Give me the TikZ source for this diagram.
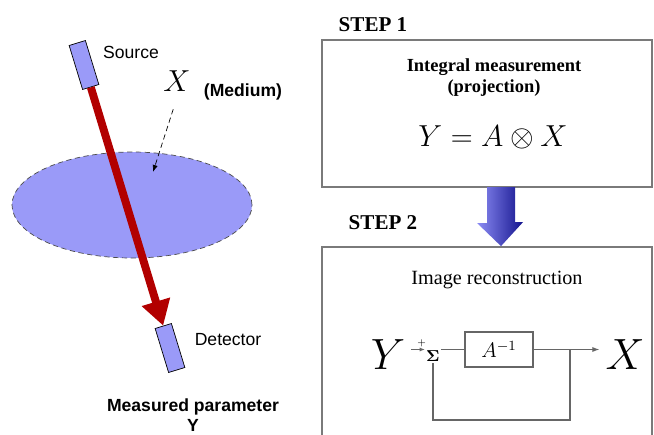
\documentclass[tikz,border=0pt]{standalone}
\usepackage{amsmath, amssymb}
\usepackage{xcolor}
\usepackage{fontspec}
\setmainfont{Liberation Serif}
\setsansfont{Liberation Sans}
\usetikzlibrary{arrows.meta, shapes.geometric}
\definecolor{medium-blue}{HTML}{9A9AF8}
\definecolor{ray-red}{HTML}{B20000}
\definecolor{frame-gray}{HTML}{7A7A7A}
\definecolor{step-light}{HTML}{8C8CF4}
\definecolor{step-dark}{HTML}{14148E}

\begin{document}
\begin{tikzpicture}[every node/.style={font=\sffamily\fontsize{10}{11}\selectfont},
    probe/.style={draw, fill=medium-blue, minimum width=0.34cm, minimum height=0.92cm,
      inner sep=0pt, rotate=17},
    steplabel/.style={font=\rmfamily\bfseries\fontsize{12}{14}\selectfont},
    wire/.style={draw=black!60, line width=0.6pt}]
    \useasboundingbox (0,0) rectangle (13.08,8.68);
    % object side
    \node[ellipse, draw=black!70, densely dashed, fill=medium-blue, minimum width=4.8cm,
      minimum height=2.12cm] (medium) at (2.64,4.58) {};
    \node[probe] (src) at (1.68,7.38) {};
    \node[probe] (det) at (3.40,1.72) {};
    \draw[-{Triangle[width=0.56cm, length=0.5cm]}, line width=4.5pt, ray-red]
      (src.south) -- (det.north);
    \node (srclab) at (2.62,7.64) {Source};
    \node[font=\fontsize{18}{18}\selectfont] (xlab) at (3.54,7.06) {$X$};
    \node[font=\sffamily\bfseries\fontsize{10}{11}\selectfont] (medlab) at (4.86,6.84) {(Medium)};
    \coordinate (inside) at (3.06,5.24);
    \draw[-{Latex[length=4pt]}, densely dashed, shorten <=7pt] (xlab.south) -- (inside);
    \node (detlab) at (4.56,1.88) {Detector};
    \node[font=\sffamily\bfseries\fontsize{10}{11}\selectfont, align=center]
      (meas) at (3.86,0.38) {Measured parameter\\Y};
    % step 1
    \node[steplabel] (step1) at (7.46,8.18) {STEP 1};
    \node[draw=frame-gray, line width=1pt, minimum width=6.6cm, minimum height=2.94cm]
      (box1) at (9.74,6.41) {};
    \node[font=\rmfamily\bfseries\fontsize{10.5}{12}\selectfont, align=center]
      (intlab) at (9.88,7.12) {Integral measurement\\(projection)};
    \node[font=\fontsize{17}{17}\selectfont] (fwd) at (9.86,5.94) {$Y = A \otimes X$};
    % step 2
    \node[steplabel] (step2) at (7.66,4.22) {STEP 2};
    \node[draw=frame-gray, line width=1pt, minimum width=6.6cm, minimum height=4.2cm]
      (box2) at (9.74,1.64) {};
    \coordinate (down) at (10.02,4.94);
    \shade[left color=step-light, right color=step-dark]
      (down) ++(-0.28,0) -- ++(0,-0.72) -- ++(-0.2,0) -- (down |- box2.north)
      -- ++(0.44,0.48) -- ++(-0.16,0) -- (10.30,4.94) -- cycle;
    \node[font=\rmfamily\fontsize{11.5}{13}\selectfont] (reclab) at (9.94,3.08) {Image reconstruction};
    \node[font=\fontsize{24}{24}\selectfont] (yin) at (7.76,1.58) {$Y$};
    \node[inner sep=0.5pt, font=\small] (sum) at (8.66,1.56) {$\boldsymbol{\Sigma}$};
    \node[wire, minimum width=1.36cm, minimum height=0.7cm, font=\fontsize{12}{12}\selectfont]
      (ainv) at (9.98,1.69) {$A^{-1}$};
    \node[font=\fontsize{24}{24}\selectfont] (xout) at (12.5,1.58) {$X$};
    \coordinate (branch) at (11.4,1.69);
    \draw[wire, -{Latex[length=3pt]}] (yin.east |- ainv.west) -- (sum.west |- ainv.west)
      node[pos=0.75, above, inner sep=1pt, font=\tiny] {$+$};
    \draw[wire] (sum.east |- ainv.west) -- (ainv.west);
    \draw[wire, -{Latex[length=4pt]}] (ainv.east) -- (xout.west |- ainv.east);
    \draw[wire] (branch) -- ++(0,-1.41) -| (sum.south);
  \end{tikzpicture}
\end{document}
